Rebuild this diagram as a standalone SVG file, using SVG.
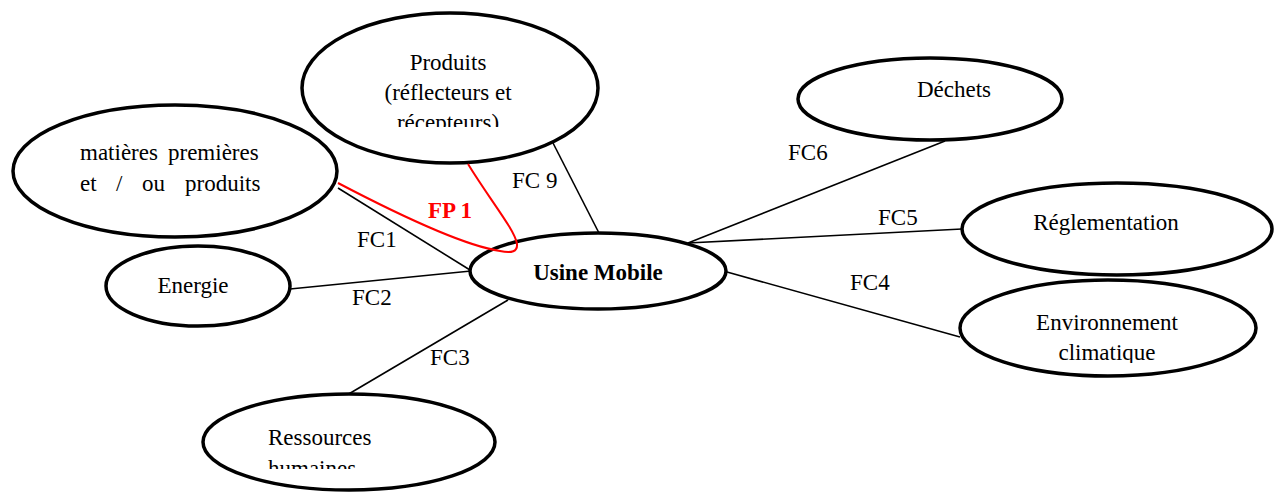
<svg xmlns="http://www.w3.org/2000/svg" width="1274" height="493" viewBox="0 0 1274 493">
<style>
  .node ellipse { fill: #ffffff; stroke: #000000; stroke-width: 3.5; }
  .t { font-family: "Liberation Serif", "Times New Roman", serif; font-size: 23px; fill: #000000; }
  .c { text-anchor: middle; }
  .b { font-weight: bold; }
  .conn line { stroke: #000000; stroke-width: 1.6; }
  .fp { fill: none; stroke: #ff0000; stroke-width: 2; }
  .red { fill: #ff0000; }
</style>
<defs>
  <clipPath id="clipProduits"><rect x="300" y="10" width="300" height="117"/></clipPath>
  <clipPath id="clipRess"><rect x="200" y="390" width="300" height="79"/></clipPath>
  <clipPath id="clipEnv"><rect x="958" y="278" width="302" height="85"/></clipPath>
</defs>
<rect x="0" y="0" width="1274" height="493" fill="#ffffff"/>

<g id="connectors" class="conn">
  <line x1="338" y1="188" x2="470" y2="270"/>
  <line x1="290" y1="289" x2="471" y2="271"/>
  <line x1="508" y1="300" x2="347" y2="395"/>
  <line x1="553" y1="143" x2="600" y2="235"/>
  <line x1="945" y1="141" x2="688" y2="243"/>
  <line x1="688" y1="243" x2="962" y2="229"/>
  <line x1="727" y1="272" x2="960" y2="337"/>
</g>

<g id="node-matieres" class="node">
  <ellipse cx="175" cy="171" rx="162" ry="66"/>
  <text class="t" y="160"><tspan x="80">matières</tspan><tspan x="168">premières</tspan></text>
  <text class="t" y="191"><tspan x="80">et</tspan><tspan x="116">/</tspan><tspan x="142">ou</tspan><tspan x="185">produits</tspan></text>
</g>

<g id="node-produits" class="node">
  <ellipse cx="450" cy="88" rx="148" ry="75"/>
  <g clip-path="url(#clipProduits)">
    <text class="t c" x="448" y="70">Produits</text>
    <text class="t c" x="448" y="100">(réflecteurs et</text>
    <text class="t c" x="448" y="130">récepteurs)</text>
  </g>
</g>

<g id="node-energie" class="node">
  <ellipse cx="198" cy="286" rx="92" ry="40"/>
  <text class="t c" x="193" y="293">Energie</text>
</g>

<g id="node-usine" class="node">
  <ellipse cx="598" cy="271" rx="128" ry="38"/>
  <text class="t c b" x="598" y="280">Usine Mobile</text>
</g>

<g id="node-ressources" class="node">
  <ellipse cx="349" cy="442" rx="146" ry="48"/>
  <g clip-path="url(#clipRess)">
    <text class="t" x="268" y="445">Ressources</text>
    <text class="t" x="268" y="476">humaines</text>
  </g>
</g>

<g id="node-dechets" class="node">
  <ellipse cx="930" cy="99" rx="132" ry="41"/>
  <text class="t c" x="954" y="97">Déchets</text>
</g>

<g id="node-reglementation" class="node">
  <ellipse cx="1117" cy="229" rx="155" ry="46"/>
  <text class="t c" x="1106" y="230">Réglementation</text>
</g>

<g id="node-environnement" class="node">
  <ellipse cx="1108" cy="328" rx="148" ry="48"/>
  <g clip-path="url(#clipEnv)">
    <text class="t c" x="1107" y="330">Environnement</text>
    <text class="t c" x="1107" y="360">climatique</text>
  </g>
</g>

<g id="fp1">
  <path class="fp" d="M338,183 C380,205 460,245 500,251 Q518,255 517,244 C515,230 490,200 468,164"/>
  <text class="t b red" x="428" y="218">FP 1</text>
</g>

<g id="labels">
  <text class="t" x="357" y="247">FC1</text>
  <text class="t" x="352" y="305">FC2</text>
  <text class="t" x="430" y="365">FC3</text>
  <text class="t" x="512" y="188">FC 9</text>
  <text class="t" x="788" y="160">FC6</text>
  <text class="t" x="878" y="225">FC5</text>
  <text class="t" x="850" y="290">FC4</text>
</g>
</svg>
